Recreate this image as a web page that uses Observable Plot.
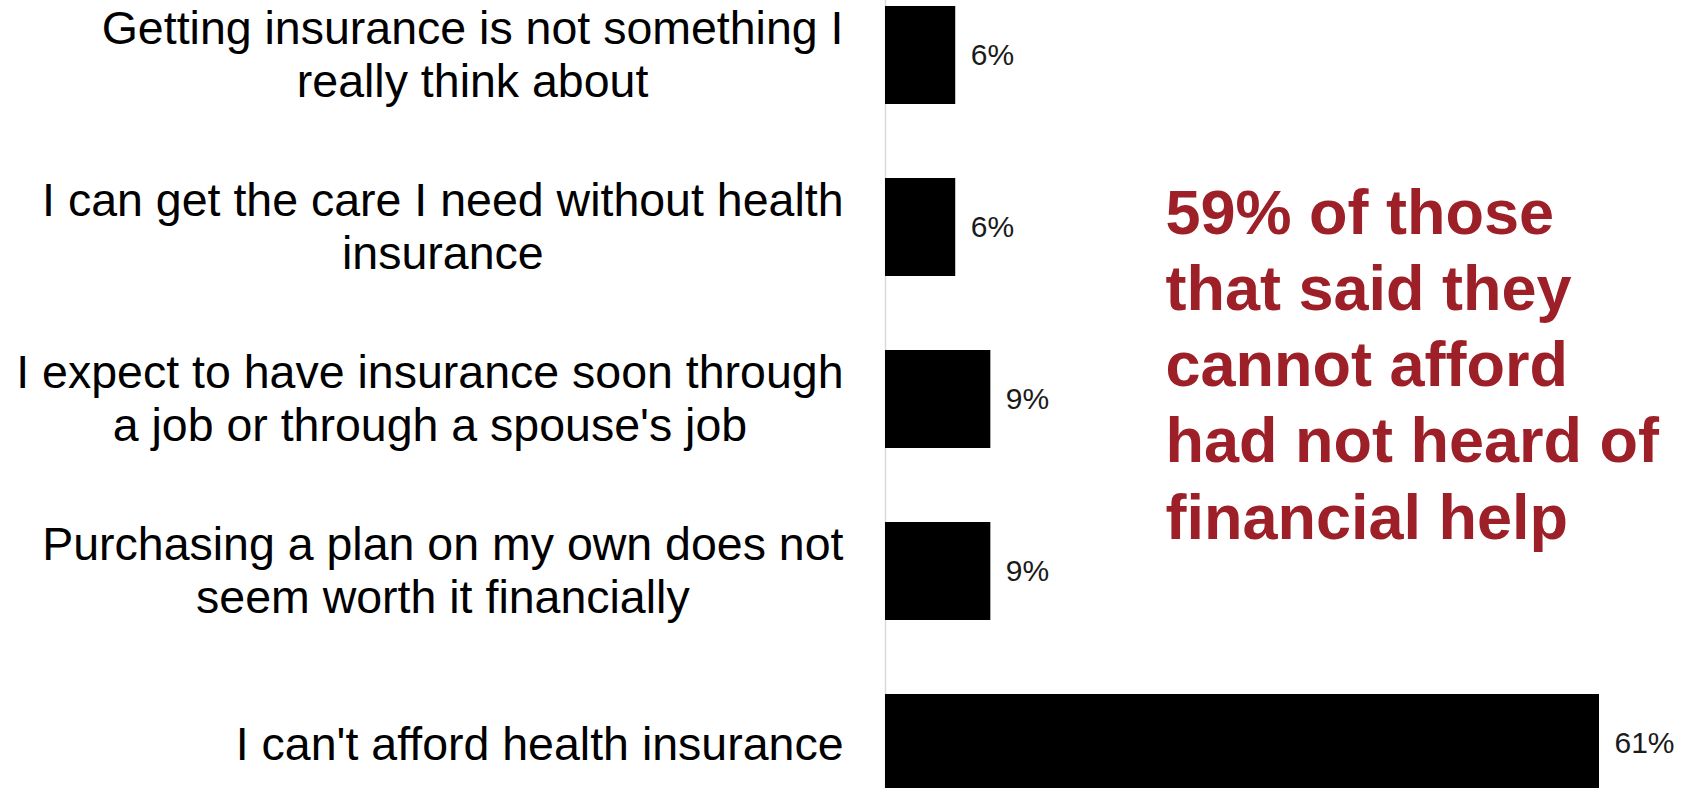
<!DOCTYPE html>
<html>
<head>
<meta charset="utf-8">
<script src="https://cdn.jsdelivr.net/npm/d3@7"></script>
<script src="https://cdn.jsdelivr.net/npm/@observablehq/plot@0.6"></script>
<style>
  html, body { margin: 0; padding: 0; background: #fff; overflow: hidden; }
  #chart svg { display: block; overflow: visible; }
</style>
</head>
<body>
<div id="chart"></div>
<script>
// ---- data ----
const categories = [
  "Getting insurance is not something I\nreally think about",
  "I can get the care I need without health\ninsurance",
  "I expect to have insurance soon through\na job or through a spouse's job",
  "Purchasing a plan on my own does not\nseem worth it financially",
  "I can't afford health insurance"
];
const values = [6, 6, 9, 9, 61];
const annotationLines = [
  "59% of those",
  "that said they",
  "cannot afford",
  "had not heard of",
  "financial help"
];

const rows = categories.map((c, i) => ({category: c, value: values[i]}));

const FONT = "'Liberation Sans', Arial, Helvetica, sans-serif";
const labelSize = 46.5;
const labelGap = 42;

// measure label block widths so lines are centred within a right-aligned block
const ctx = document.createElement("canvas").getContext("2d");
ctx.font = `${labelSize}px ${FONT}`;
const blockWidth = c => d3.max(c.split("\n"), s => ctx.measureText(s).width);

const labelMarks = rows.map(r =>
  Plot.text([r], {
    x: 0,
    y: "category",
    text: "category",
    textAnchor: "middle",
    dx: -(labelGap + blockWidth(r.category) / 2),
    dy: r.category.includes("\n") ? -2 : 0,
    fontSize: labelSize,
    lineHeight: 1.13,
    fill: "#000"
  })
);

const chart = Plot.plot({
  width: 1692,
  height: 788,
  marginLeft: 885,
  marginRight: 93,
  marginTop: 0,
  marginBottom: 0,
  style: {fontFamily: FONT, background: "#fff", overflow: "visible"},
  x: {domain: [0, 61], axis: null},
  y: {domain: categories, range: [5.5, 793], paddingInner: 0.432, paddingOuter: 0, axis: null},
  marks: [
    Plot.ruleX([0], {stroke: "#d9d9d9", strokeWidth: 1.5}),
    Plot.barX(rows, {x: "value", y: "category", fill: "#000"}),
    Plot.text(rows, {
      x: "value",
      y: "category",
      text: d => d.value + "%",
      textAnchor: "start",
      dx: 15,
      fontSize: 30,
      fill: "#1a1a1a"
    }),
    ...labelMarks,
    Plot.text([annotationLines.join("\n")], {
      frameAnchor: "top-left",
      textAnchor: "start",
      lineAnchor: "top",
      dx: 280,
      dy: 179,
      fontSize: 63,
      fontWeight: "bold",
      lineHeight: 1.21,
      fill: "#9d1f28"
    })
  ]
});
document.getElementById("chart").appendChild(chart);
</script>
</body>
</html>
